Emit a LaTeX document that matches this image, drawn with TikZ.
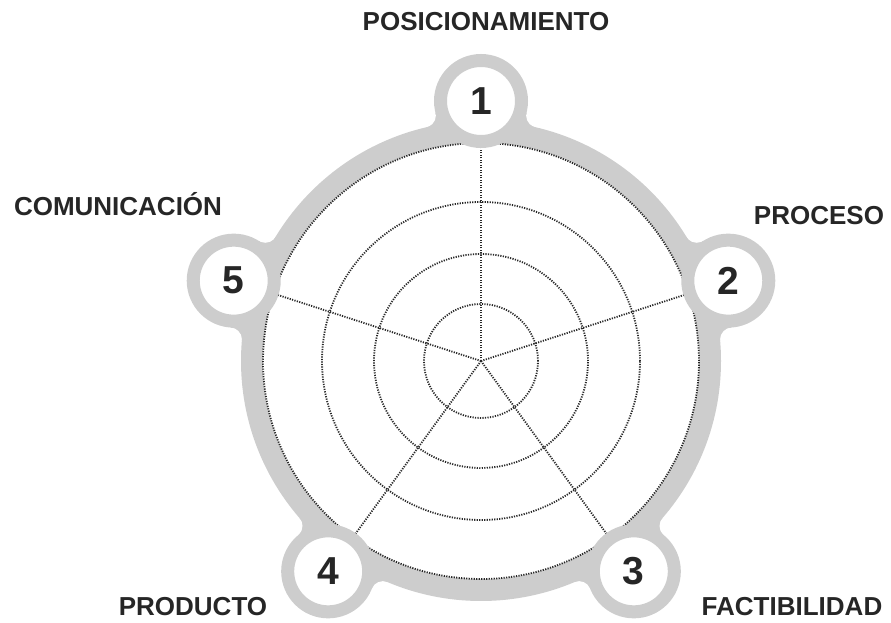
\documentclass[tikz,border=0pt]{standalone}
\usepackage{fontspec}
\newfontfamily\labfont{Liberation Sans}
\usetikzlibrary{calc}
\definecolor{ringgray}{RGB}{205,205,205}
\definecolor{txtdark}{RGB}{38,38,38}
\definecolor{dotgray}{RGB}{40,40,40}
\tikzset{
  numcirc/.style={circle, draw=ringgray, fill=white, line width=13pt, minimum size=81pt, inner sep=0pt,
    text=txtdark, font=\labfont\bfseries\fontsize{39}{42}\selectfont},
  lab/.style={anchor=base, text=txtdark, inner sep=0pt, font=\labfont\bfseries\fontsize{26}{30}\selectfont},
  grid/.style={draw=dotgray, line width=1.8pt, dash pattern=on 1.2pt off 1.3pt}
}
\begin{document}
\begin{tikzpicture}[x=1pt,y=1pt]
\useasboundingbox (0,0) rectangle (891,623);
\coordinate (O) at (481,262);
% fillets between ring and number circles
\foreach \a in {90,18,-54,-126,162}{
  \fill[ringgray] (O) -- ($(O)+(\a-13.11:252)$) -- ($(O)+(\a:260)$) -- ($(O)+(\a+13.11:252)$) -- cycle;
  \fill[white] ($(O)+(\a-13.11:252)$) circle (12);
  \fill[white] ($(O)+(\a+13.11:252)$) circle (12);
}
% main ring
\draw[ringgray, line width=22pt] (O) circle (229);
\fill[white] (O) circle (218);
% grid
\foreach \r in {57,107,159,218}{
  \draw[grid] (O) circle (\r);
}
\foreach \a [count=\i] in {90,18,-54,-126,162}{
  \coordinate (s\i) at ($(O)+(\a:218)$);
  \draw[grid] (O) -- (s\i);
}
% number circles
\node[numcirc] (n1) at ($(O)+(90:260)$) {1};
\node[numcirc] (n2) at ($(O)+(18:260)$) {2};
\node[numcirc] (n3) at ($(O)+(-54:260)$) {3};
\node[numcirc] (n4) at ($(O)+(-126:260)$) {4};
\node[numcirc] (n5) at ($(O)+(162:260)$) {5};
% labels
\node[lab] (l1) at (486,592) {POSICIONAMIENTO};
\node[lab] (l2) at (819,398) {PROCESO};
\node[lab] (l3) at (792,7) {FACTIBILIDAD};
\node[lab] (l4) at (193,7) {PRODUCTO};
\node[lab] (l5) at (118,407) {COMUNICACIÓN};
\end{tikzpicture}
\end{document}
